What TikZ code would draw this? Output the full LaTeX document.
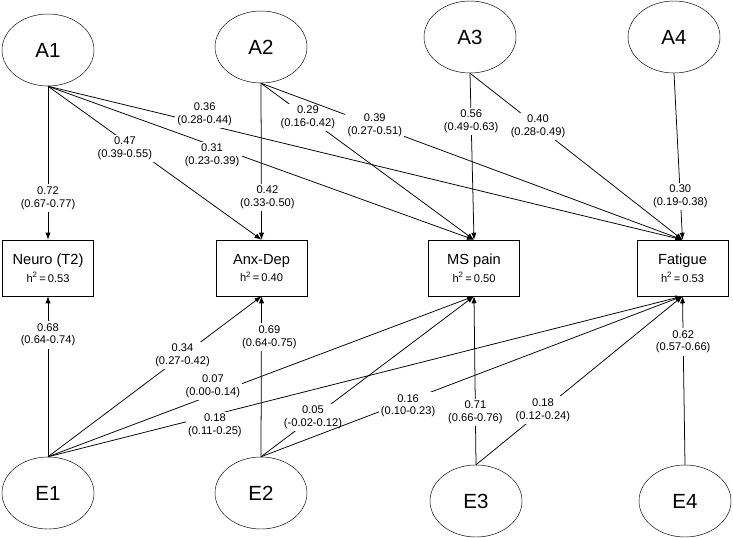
\documentclass[tikz,border=0pt]{standalone}
\usepackage{fontspec}
\setmainfont{Liberation Sans}
\usetikzlibrary{arrows.meta,shapes.geometric}

\begin{document}
\begin{tikzpicture}[x=0.03cm,y=-0.03cm,
    lat/.style={draw,ellipse,minimum width=2.76cm,minimum height=2.16cm,inner sep=0pt,
        font=\fontsize{17.5}{20}\selectfont},
    obs/.style={draw,rectangle,minimum width=2.73cm,minimum height=1.68cm,inner sep=0pt,
        align=center,font=\fontsize{12.5}{15}\selectfont},
    lnk/.style={-{Latex[length=6pt,width=4.5pt]},line width=0.65pt},
    coef/.style={fill=white,inner sep=2pt,align=center,font=\fontsize{9.5}{11}\selectfont}]
    \useasboundingbox (0,0) rectangle (733,538);
    % latent factors
    \foreach \n/\x/\y in {A1/48/50, A2/261/47, A3/470/37, A4/674/37,
                          E1/48/493, E2/261/493, E3/476/501, E4/685/501}
        \node[lat] (\n) at (\x,\y) {\n};
    % observed traits
    \node[obs] (neu) at (48,268)    {Neuro (T2)\\{\fontsize{9.5}{10}\selectfont h\textsuperscript{2}\,=\,0.53}};
    \node[obs] (anx) at (261.5,268) {Anx-Dep\\{\fontsize{9.5}{10}\selectfont h\textsuperscript{2}\,=\,0.40}};
    \node[obs] (ms)  at (474,268)   {MS pain\\{\fontsize{9.5}{10}\selectfont h\textsuperscript{2}\,=\,0.50}};
    \node[obs] (fat) at (682.5,268) {Fatigue\\{\fontsize{9.5}{10}\selectfont h\textsuperscript{2}\,=\,0.53}};
    % additive genetic paths
    \foreach \s/\t/\p/\dx/\dy/\v/\ci in {
        A1/neu/.73/0/0/0.72/0.67-0.77,
        A1/anx/.36/0/7/0.47/0.39-0.55,
        A1/ms/.385/0/10/0.31/0.23-0.39,
        A1/fat/.247/0/-10/0.36/0.28-0.44,
        A2/anx/.73/6/0/0.42/0.33-0.50,
        A2/ms/.22/0/0/0.29/0.16-0.42,
        A2/fat/.27/0/0/0.39/0.27-0.51,
        A3/ms/.29/0/0/0.56/0.49-0.63,
        A3/fat/.32/0/0/0.40/0.28-0.49,
        A4/fat/.74/0/0/0.30/0.19-0.38}
        \draw[lnk] (\s.south) -- (\t.north) node[coef,pos=\p,shift={(\dx,\dy)}] {\v\\(\ci)};
    % unique environment paths
    \foreach \s/\t/\p/\dx/\dy/\v/\ci in {
        E1/neu/.76/0/0/0.68/0.64-0.74,
        E1/anx/.63/0/0/0.34/0.27-0.42,
        E1/ms/.387/0/-8/0.07/0.00-0.14,
        E1/fat/.263/0/11/0.18/0.11-0.25,
        E2/anx/.745/8/0/0.69/0.64-0.75,
        E2/ms/.244/0/0/0.05/-0.02-0.12,
        E2/fat/.349/0/5/0.16/0.10-0.23,
        E3/ms/.31/0/0/0.71/0.66-0.76,
        E3/fat/.324/0/0/0.18/0.12-0.24,
        E4/fat/.73/0/0/0.62/0.57-0.66}
        \draw[lnk] (\s.north) -- (\t.south) node[coef,pos=\p,shift={(\dx,\dy)}] {\v\\(\ci)};
\end{tikzpicture}
\end{document}
